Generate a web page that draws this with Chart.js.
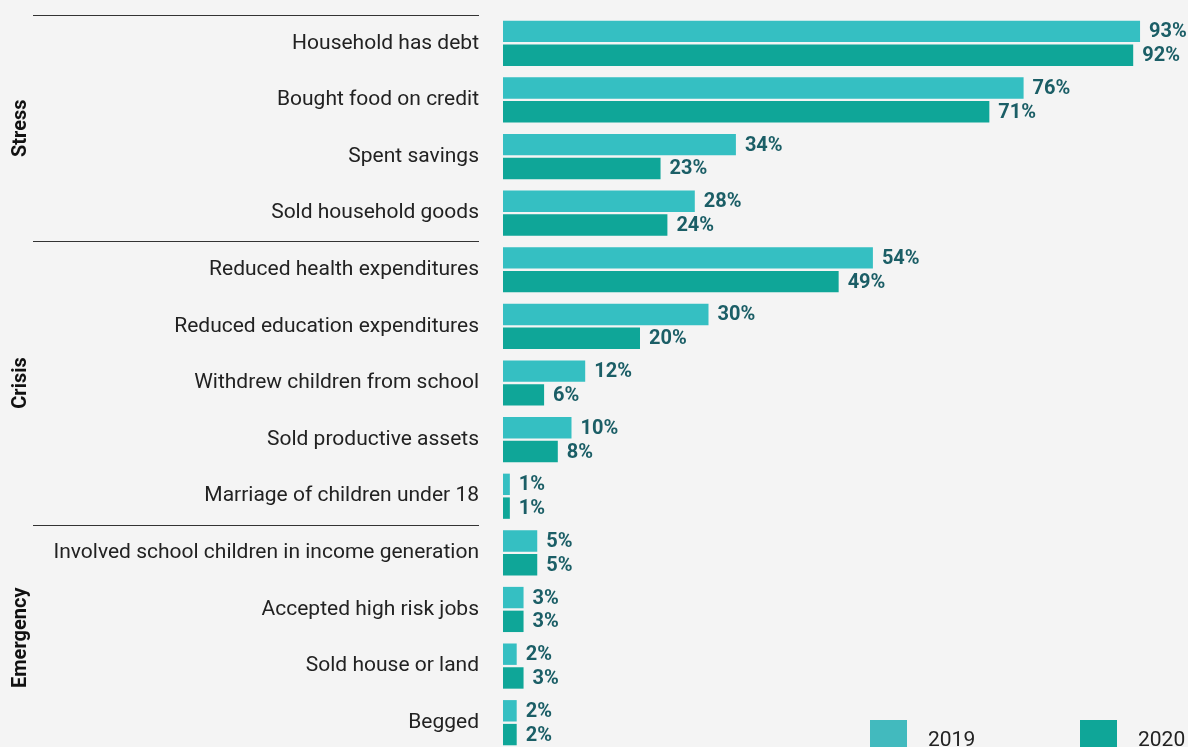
<!DOCTYPE html>
<html>
<head>
<meta charset="utf-8">
<script src="https://cdn.jsdelivr.net/npm/chart.js@4.4.1/dist/chart.umd.min.js"></script>
<style>
  html, body { margin: 0; padding: 0; background: #f4f4f4; overflow: hidden; }
  canvas { display: block; }
</style>
</head>
<body>
<canvas id="chart" width="1188" height="751"></canvas>
<script>
const categories = [
  "Household has debt", "Bought food on credit", "Spent savings", "Sold household goods",
  "Reduced health expenditures", "Reduced education expenditures", "Withdrew children from school",
  "Sold productive assets", "Marriage of children under 18",
  "Involved school children in income generation", "Accepted high risk jobs", "Sold house or land", "Begged"
];
const values2019 = [93, 76, 34, 28, 54, 30, 12, 10, 1, 5, 3, 2, 2];
const values2020 = [92, 71, 23, 24, 49, 20, 6, 8, 1, 5, 3, 3, 2];
const groupNames = ["Stress", "Crisis", "Emergency"];
const groupSizes = [4, 5, 4];

const FONT = "Roboto, 'Noto Sans', sans-serif";

// labels, group brackets and legend drawn on top
const extras = {
  id: "extras",
  afterDatasetsDraw(chart) {
    const ctx = chart.ctx;
    const y = chart.scales.y;
    const step = y.getPixelForValue(1) - y.getPixelForValue(0);

    // value labels
    ctx.save();
    ctx.font = "bold 20px " + FONT;
    ctx.fillStyle = "#1b5e66";
    ctx.textBaseline = "middle";
    ctx.textAlign = "left";
    chart.data.datasets.forEach((ds, i) => {
      chart.getDatasetMeta(i).data.forEach((bar, j) => {
        ctx.fillText(ds.data[j] + "%", bar.x + 9, bar.y + 1);
      });
    });
    ctx.restore();

    // group lines and titles
    ctx.save();
    ctx.strokeStyle = "#333";
    ctx.lineWidth = 1;
    let start = 0;
    groupNames.forEach((name, g) => {
      const end = start + groupSizes[g] - 1;
      const top = y.getPixelForValue(start) - step / 2;
      const bottom = y.getPixelForValue(end) + step / 2;
      ctx.beginPath();
      ctx.moveTo(33, Math.round(top) + 0.5);
      ctx.lineTo(479, Math.round(top) + 0.5);
      ctx.stroke();
      ctx.save();
      ctx.translate(21, (top + bottom) / 2);
      ctx.rotate(-Math.PI / 2);
      ctx.font = "bold 20px " + FONT;
      ctx.fillStyle = "#111";
      ctx.textAlign = "center";
      ctx.textBaseline = "middle";
      ctx.fillText(name, 0, 0);
      ctx.restore();
      start = end + 1;
    });
    ctx.restore();

    // legend at bottom right
    ctx.save();
    ctx.font = "21px " + FONT;
    ctx.textBaseline = "alphabetic";
    ctx.textAlign = "left";
    const legendX = [870, 1080];
    chart.data.datasets.forEach((ds, i) => {
      ctx.fillStyle = ds.legendColor;
      ctx.fillRect(legendX[i], 720, 37, 35);
      ctx.fillStyle = "#222";
      ctx.fillText(ds.label, legendX[i] + 58, 746);
    });
    ctx.restore();
  }
};

new Chart(document.getElementById("chart").getContext("2d"), {
  type: "bar",
  data: {
    labels: categories,
    datasets: [
      { label: "2019", data: values2019, backgroundColor: "#35bfc2", legendColor: "#42babe" },
      { label: "2020", data: values2020, backgroundColor: "#0fa698", legendColor: "#0fa698" }
    ]
  },
  options: {
    indexAxis: "y",
    responsive: false,
    animation: false,
    layout: { padding: { top: 15, right: 0, bottom: 0, left: 0 } },
    datasets: { bar: { categoryPercentage: 0.84, barPercentage: 0.9 } },
    plugins: { legend: { display: false }, tooltip: { enabled: false } },
    scales: {
      x: { display: false, min: 0, max: 100 },
      y: {
        grid: { display: false, drawTicks: false },
        border: { display: false },
        afterFit: s => { s.width = 503; s.paddingTop = 0; s.paddingBottom = 0; },
        ticks: { font: { family: FONT, size: 21 }, color: "#222", padding: 24, autoSkip: false }
      }
    }
  },
  plugins: [extras]
});
</script>
</body>
</html>
